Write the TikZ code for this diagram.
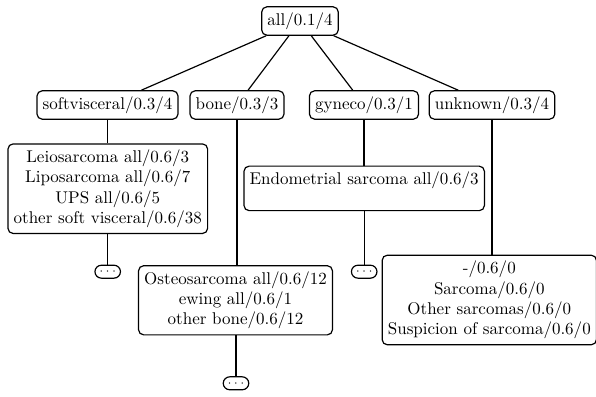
\documentclass[tikz,border=0pt]{standalone}
\usetikzlibrary{shapes.misc}
\begin{document}
\begin{tikzpicture}[x=0.588pt,y=-0.588pt,
  box/.style={draw,rounded corners=3pt,align=center,inner sep=3.33pt,line width=0.7pt},
  more/.style={draw,rounded rectangle,minimum width=15pt,minimum height=7.6pt,inner sep=0pt,font=\scriptsize,line width=0.7pt},
  link/.style={line width=0.7pt}]
\useasboundingbox (0,0) rectangle (596,397);
\node[box] (root) at (300,21) {all/0.1/4};
\node[box] (soft) at (107.5,105) {softvisceral/0.3/4};
\node[box] (bone) at (237,105) {bone/0.3/3};
\node[box] (gyn) at (364,105) {gyneco/0.3/1};
\node[box] (unk) at (492,105) {unknown/0.3/4};
\node[box] (leio) at (107.8,188.7) {Leiosarcoma all/0.6/3\\Liposarcoma all/0.6/7\\UPS all/0.6/5\\other soft visceral/0.6/38};
\node[box] (endo) at (364.2,188.4) {Endometrial sarcoma all/0.6/3\\\mbox{}};
\node[box] (osteo) at (235.5,300.3) {Osteosarcoma all/0.6/12\\ewing all/0.6/1\\other bone/0.6/12};
\node[box] (unkl) at (489.3,300) {-/0.6/0\\Sarcoma/0.6/0\\Other sarcomas/0.6/0\\Suspicion of sarcoma/0.6/0};
\node[more] (d1) at (107.7,271.7) {$\cdots$};
\node[more] (d2) at (364.2,271.7) {$\cdots$};
\node[more] (d3) at (236,383.3) {$\cdots$};
\draw[link] (root) -- (soft);
\draw[link] (root) -- (bone);
\draw[link] (root) -- (gyn);
\draw[link] (root) -- (unk);
\draw[link] (soft.south) -- (soft.south |- leio.north);
\draw[link] (bone.south) -- (bone.south |- osteo.north);
\draw[link] (gyn.south) -- (gyn.south |- endo.north);
\draw[link] (unk.south) -- (unk.south |- unkl.north);
\draw[link] (leio.south -| d1.north) -- (d1.north);
\draw[link] (endo.south -| d2.north) -- (d2.north);
\draw[link] (osteo.south -| d3.north) -- (d3.north);
\end{tikzpicture}
\end{document}
